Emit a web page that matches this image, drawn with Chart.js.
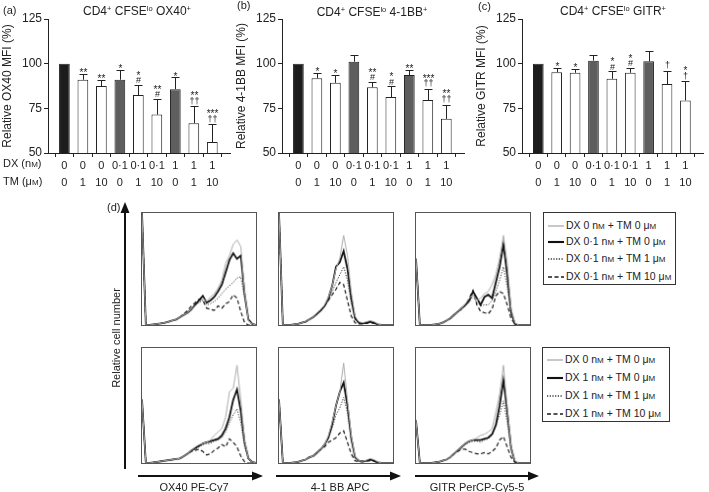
<!DOCTYPE html>
<html>
<head>
<meta charset="utf-8">
<script src="https://cdn.jsdelivr.net/npm/chart.js@4.4.1/dist/chart.umd.min.js"></script>
<style>
  body { margin: 0; background: #fff; }
  #fig { position: relative; width: 709px; height: 492px; font-family: 'Liberation Sans', Arial, sans-serif; color: #222; overflow: hidden; }
  #fig canvas, #fig .t, #fig .leg, #fig > svg { position: absolute; }
  .t { font-size: 11px; white-space: nowrap; line-height: 1; }
  .ttl { font-size: 12px; }
  .t sup { font-size: 7.5px; vertical-align: 4px; line-height: 0; }
  .sc { font-size: 8px; }
  .hist { border: 1px solid #555; }
  .leg { border: 1px solid #333; background: #fff; font-size: 10.5px; }
  .leg div { position: absolute; left: 4px; white-space: nowrap; height: 12px; line-height: 12px; }
  #fig .leg svg { position: static; vertical-align: middle; margin-right: 2px; }
</style>
</head>
<body>
<div id="fig">
  <canvas id="barA" width="236" height="195" style="left:0;top:0"></canvas>
  <canvas id="barB" width="236" height="195" style="left:234px;top:0"></canvas>
  <canvas id="barC" width="235" height="195" style="left:474px;top:0"></canvas>

  <div class="t" style="left:3px;top:5px">(a)</div>
  <div class="t" style="left:237px;top:0px">(b)</div>
  <div class="t" style="left:478px;top:1px">(c)</div>
  <div class="t ttl" style="left:137px;top:5px;transform:translateX(-50%)">CD4<sup>+</sup> CFSE<sup>lo</sup> OX40<sup>+</sup></div>
  <div class="t ttl" style="left:372px;top:6px;transform:translateX(-50%)">CD4<sup>+</sup> CFSE<sup>lo</sup> 4-1BB<sup>+</sup></div>
  <div class="t ttl" style="left:613px;top:5px;transform:translateX(-50%)">CD4<sup>+</sup> CFSE<sup>lo</sup> GITR<sup>+</sup></div>
  <div class="t" style="left:3px;top:158px">DX (n<span class="sc">M</span>)</div>
  <div class="t" style="left:3px;top:176px">TM (μ<span class="sc">M</span>)</div>

  <canvas id="h1" class="hist" width="116" height="114" style="left:141px;top:212px"></canvas>
  <canvas id="h2" class="hist" width="116" height="114" style="left:278px;top:212px"></canvas>
  <canvas id="h3" class="hist" width="116" height="114" style="left:415px;top:212px"></canvas>
  <canvas id="h4" class="hist" width="116" height="117" style="left:141px;top:347px"></canvas>
  <canvas id="h5" class="hist" width="116" height="117" style="left:278px;top:347px"></canvas>
  <canvas id="h6" class="hist" width="116" height="117" style="left:415px;top:347px"></canvas>

  <div class="leg" id="legTop" style="left:543px;top:212px;width:131px;height:71px"></div>
  <div class="leg" id="legBot" style="left:542px;top:347px;width:126px;height:73px"></div>

  <svg width="709" height="492" style="left:0;top:0;pointer-events:none">
    <g stroke="#111" stroke-width="2" fill="#111">
      <line x1="125" y1="469" x2="125" y2="211"/>
      <polygon points="125,202 120.5,213 129.5,213" stroke="none"/>
      <line x1="138" y1="476" x2="255" y2="476"/>
      <polygon points="263,476 252,471.5 252,480.5" stroke="none"/>
      <line x1="276" y1="476" x2="393" y2="476"/>
      <polygon points="401,476 390,471.5 390,480.5" stroke="none"/>
      <line x1="415" y1="476" x2="531" y2="476"/>
      <polygon points="539,476 528,471.5 528,480.5" stroke="none"/>
    </g>
  </svg>
  <div class="t" style="left:107px;top:202px">(d)</div>
  <div class="t" style="left:116px;top:338px;transform:translate(-50%,-50%) rotate(-90deg)">Relative cell number</div>
  <div class="t" style="left:194px;top:482px;transform:translateX(-50%)">OX40 PE-Cy7</div>
  <div class="t" style="left:340px;top:482px;transform:translateX(-50%)">4-1 BB APC</div>
  <div class="t" style="left:477px;top:482px;transform:translateX(-50%)">GITR PerCP-Cy5-5</div>
</div>

<script>
// ---- bar panels (a)-(c) ----
const dxLabels = ['0', '0', '0', '0·1', '0·1', '0·1', '1', '1', '1'];
const tmLabels = ['0', '1', '10', '0', '1', '10', '0', '1', '10'];
const barFill  = ['#1c1c1c', '#ffffff', '#ffffff', '#5e5e5e', '#ffffff', '#ffffff', '#5e5e5e', '#ffffff', '#ffffff'];

const ox40Mfi  = [100, 91, 87.5, 91, 82.4, 71.5, 85.7, 66.7, 56.1];
const ox40Sem  = [0, 3, 3.3, 5.3, 5.8, 8.8, 6.6, 9.4, 9.9];
const ox40Sig  = [[], ['**'], ['**'], ['*'], ['*', '#'], ['**', '#'], ['*'], ['**', '††'], ['***', '††']];

const bb41Mfi  = [100, 91.9, 89.3, 101.1, 86.8, 81.3, 93.6, 79.6, 69.1];
const bb41Sem  = [0, 3, 4.6, 4, 3.1, 6.2, 3.1, 6.2, 7.9];
const bb41Sig  = [[], ['*'], ['*'], [], ['**', '#'], ['*', '#'], ['**'], ['***', '††'], ['**', '††']];

const gitrMfi  = [100, 95.2, 94.9, 101.7, 91.5, 94.9, 101.3, 88.6, 79.4];
const gitrSem  = [0, 2.4, 2.2, 2.9, 4.3, 2.7, 5.9, 7.4, 10.7];
const gitrSig  = [[], ['*'], ['*'], [], ['*', '#'], ['*', '#'], [], ['†'], ['*', '†']];

// ---- histograms (d): % of max, one value per channel bin ----
const bins = [0,1,2,3,4,5,6,7,8,9,10,11,12,13,14,15,16,17,18,19,20,21,22,23,24,25,26,27,28,29,30];
const legendTop = ['DX 0 n|M + TM 0 μ|M', 'DX 0·1 n|M + TM 0 μ|M', 'DX 0·1 n|M + TM 1 μ|M', 'DX 0·1 n|M + TM 10 μ|M'];
const legendBot = ['DX 0 n|M + TM 0 μ|M', 'DX 1 n|M + TM 0 μ|M', 'DX 1 n|M + TM 1 μ|M', 'DX 1 n|M + TM 10 μ|M'];

// order: control, DX alone, DX + TM 1, DX + TM 10
const ox40Top = [
  [100,0,0,0.5,1,1.5,2,3,4,5,7,9,11,14,17,20,24,21,25,28,33,40,55,62,72,76,70,30,4,1,0],
  [100,0,0,0.5,1,1.5,2,3,4,5,7,9,11,14,18,22,26,20,22,25,30,36,47,58,64,59,62,28,5,1,0],
  [100,0,0,0.5,1,1.5,2,3,4,5,7,9,11,14,17,20,22,18,19,21,24,28,32,35,38,42,43,24,4,1,0],
  [100,0,0,0.5,1,1.5,2,3,4,5,7,10,13,17,20,23,22,15,14,13,17,15,19,21,27,24,12,2,0,0,0]
];
const bb41Top = [
  [100,0,0,0,0.5,1,2,3,5,7,11,14,18,25,35,50,60,80,62,30,8,3,2,3,4,3,1,0,0,0,0],
  [100,0,0,0,0.5,1,2,3,5,7,10,13,17,24,35,52,56,66,50,24,6,2,1.5,2,3,2,0.5,0,0,0,0],
  [100,0,0,0,0.5,1,2,3,5,7,10,13,17,22,30,38,45,52,40,20,5,2,1.5,2,2.5,2,0.5,0,0,0,0],
  [100,0,0,0,0.5,1,2,3,5,7,10,13,17,22,27,32,38,36,22,8,2,1,1,1.5,2,1.5,0.5,0,0,0,0]
];
const gitrTop = [
  [59,0,0,0,0,0.5,1,2,4,6,9,12,15,19,24,27,22,24,28,30,36,45,60,80,56,15,2,0,0,0,0],
  [59,0,0,0,0,0.5,1,2,4,6,9,12,15,18,22,30,24,18,25,27,24,38,52,72,45,12,1,0,0,0,0],
  [59,0,0,0,0,0.5,1,2,4,6,9,12,14,17,20,26,20,17,18,18,22,30,40,52,34,10,1,0,0,0,0],
  [59,0,0,0,0,0.5,1,2,4,6,9,12,14,18,24,31,18,12,11,10,14,26,30,28,18,6,1,0,0,0,0]
];
const ox40Bot = [
  [55,0,0,0.5,1,1.5,2,2.5,3,3.5,4,6,8,11,14,16,17,18,20,24,27,30,40,62,65,85,55,20,4,1,0],
  [55,0,0,0.5,1,1.5,2,2.5,3,3.5,4,6,8,11,13,15,17,18,19,20,21,24,30,40,55,64,45,18,4,1,0],
  [55,0,0,0.5,1,1.5,2,2.5,3,3.5,4,6,8,10,12,14,16,17,17,19,20,22,27,35,42,47,35,14,3,1,0],
  [55,0,0,0.5,1,1.5,2,2.5,3,3.5,4,6,8,10,11,12,10,7,8,11,13,16,14,21,18,14,6,1,0,0,0]
];
const bb41Bot = [
  [55,0,0,0,0.5,1,2,3,5,6,9,12,16,24,36,50,62,87,55,24,6,2,1.5,2.5,4,3,1,0,0,0,0],
  [55,0,0,0,0.5,1,2,3,5,6,9,12,16,22,34,50,62,70,50,22,5,2,1.5,2,3,2,0.5,0,0,0,0],
  [55,0,0,0,0.5,1,2,3,5,6,9,12,16,22,30,42,48,57,44,20,5,2,1.5,2,2.5,2,0.5,0,0,0,0],
  [55,0,0,0,0.5,1,2,3,5,6,9,12,14,18,20,22,26,28,18,8,2,1,1,1.5,2,1.5,0.5,0,0,0,0]
];
const gitrBot = [
  [37,0,0,0,0,0.5,1,2,3,5,8,11,14,17,19,20,22,24,25,27,30,44,60,85,50,15,2,0,0,0,0],
  [37,0,0,0,0,0.5,1,2,3,5,8,11,14,17,19,20,20,20,21,22,25,33,50,72,45,14,1,0,0,0,0],
  [37,0,0,0,0,0.5,1,2,3,5,8,11,13,16,18,19,19,18,20,21,24,32,42,54,36,12,1,0,0,0,0],
  [37,0,0,0,0,0.5,1,2,3,5,8,10,12,12,10,9,8,8,9,8,10,13,20,23,14,5,1,0,0,0,0]
];

const ink = '#222';
const fontFamily = "'Liberation Sans', Arial, sans-serif";
Chart.defaults.font.family = fontFamily;
Chart.defaults.color = ink;

// upper error bars + significance marks stacked above them
// per glyph: font size, lift of the glyph centre above baseline (em), half height (px)
const glyphs = {
  '*': { size: 10, lift: 0.56, half: 2 },
  '#': { size: 9,  lift: 0.36, half: 3.2 },
  '†': { size: 9,  lift: 0.3,  half: 4 }
};
const errorBars = {
  id: 'errbars',
  afterDatasetsDraw(chart, args, opts) {
    const { ctx } = chart;
    const y = chart.scales.y;
    const meta = chart.getDatasetMeta(0);
    const vals = chart.data.datasets[0].data;
    ctx.save();
    ctx.strokeStyle = ink;
    ctx.lineWidth = 1;
    meta.data.forEach((bar, i) => {
      const v = vals[i].y;
      const top = y.getPixelForValue(v + opts.sem[i]);
      const x = Math.round(bar.x) + 0.5;
      if (opts.sem[i] > 0) {
        const t = Math.round(top) + 0.5;
        ctx.beginPath();
        ctx.moveTo(x, bar.y);
        ctx.lineTo(x, t);
        ctx.moveTo(x - 4, t);
        ctx.lineTo(x + 4, t);
        ctx.stroke();
      }
      const marks = opts.marks[i];
      ctx.fillStyle = ink;
      ctx.textAlign = 'center';
      ctx.textBaseline = 'alphabetic';
      let edge = top - 1.5;
      for (let k = marks.length - 1; k >= 0; k--) {
        const g = glyphs[marks[k][0]];
        const centre = edge - g.half;
        ctx.font = g.size + 'px ' + fontFamily;
        ctx.fillText(marks[k], x, centre + g.lift * g.size);
        edge = centre - g.half - 1.5;
      }
    });
    ctx.restore();
  }
};

function barChart(id, vals, sem, marks, yTitle) {
  return new Chart(document.getElementById(id), {
    type: 'bar',
    data: {
      datasets: [{
        data: vals.map((v, i) => ({ x: i, y: v })),
        backgroundColor: barFill,
        borderColor: ink,
        borderWidth: 1,
        barPercentage: 0.58,
        categoryPercentage: 1
      }]
    },
    options: {
      responsive: false,
      animation: false,
      layout: { padding: { top: 19, right: 6, left: 0, bottom: 0 } },
      plugins: { legend: { display: false }, tooltip: { enabled: false }, errbars: { sem, marks } },
      scales: {
        x: {
          type: 'linear', min: -0.34, max: 8.41,
          grid: { drawOnChartArea: false, tickLength: 4, color: ink },
          border: { color: ink, width: 1 },
          afterBuildTicks: s => { s.ticks = dxLabels.map((_, i) => ({ value: i })); },
          ticks: {
            autoSkip: false, maxRotation: 0, padding: 0,
            font: { size: 11, lineHeight: 1.6 },
            callback: (v, i) => [dxLabels[i], tmLabels[i]]
          },
          afterFit: s => { s.height = 42; }
        },
        y: {
          min: 50, max: 125,
          grid: { drawOnChartArea: false, tickLength: 4, color: ink },
          border: { color: ink, width: 1 },
          ticks: { stepSize: 25, padding: 2, font: { size: 12 } },
          title: { display: true, text: yTitle, font: { size: 12 }, padding: { top: 0, bottom: 1 } },
          afterFit: s => { s.width = 48; }
        }
      }
    },
    plugins: [errorBars]
  });
}

barChart('barA', ox40Mfi, ox40Sem, ox40Sig, 'Relative OX40 MFI (%)');
barChart('barB', bb41Mfi, bb41Sem, bb41Sig, 'Relative 4-1BB MFI (%)');
barChart('barC', gitrMfi, gitrSem, gitrSig, 'Relative GITR MFI (%)');

// ---- overlaid histograms ----
const lineColors = ['#ababab', '#111111', '#333333', '#1a1a1a'];
const lineWidths = [1, 1.8, 1, 1.2];
const lineDashes = [[], [], [1.2, 1.5], [4, 2.5]];

function histChart(id, sets) {
  return new Chart(document.getElementById(id), {
    type: 'line',
    data: {
      datasets: sets.map((s, k) => ({
        data: s.map((v, i) => ({ x: bins[i], y: v })),
        borderColor: lineColors[k],
        borderWidth: lineWidths[k],
        borderDash: lineDashes[k],
        pointRadius: 0,
        tension: 0,
        fill: false
      }))
    },
    options: {
      responsive: false,
      animation: false,
      layout: { padding: 0 },
      plugins: { legend: { display: false }, tooltip: { enabled: false } },
      scales: {
        x: { type: 'linear', min: 0, max: 30, display: false },
        y: { min: 0, max: 100, display: false }
      }
    }
  });
}

histChart('h1', ox40Top);
histChart('h2', bb41Top);
histChart('h3', gitrTop);
histChart('h4', ox40Bot);
histChart('h5', bb41Bot);
histChart('h6', gitrBot);

// ---- legends ----
function fillLegend(id, labels, rowTops) {
  const box = document.getElementById(id);
  labels.forEach((lab, k) => {
    const row = document.createElement('div');
    row.style.top = rowTops[k] + 'px';
    const dash = lineDashes[k].length ? `stroke-dasharray="${lineDashes[k].join(',')}"` : '';
    const txt = lab.replace(/\|M/g, '<span class="sc">M</span>');
    row.innerHTML = `<svg width="16" height="6"><line x1="0" y1="3" x2="16" y2="3" stroke="${lineColors[k]}" stroke-width="${lineWidths[k] + 0.3}" ${dash}/></svg>${txt}`;
    box.appendChild(row);
  });
}
fillLegend('legTop', legendTop, [6, 22, 39, 57]);
fillLegend('legBot', legendBot, [5, 23, 41, 59]);
</script>
</body>
</html>
